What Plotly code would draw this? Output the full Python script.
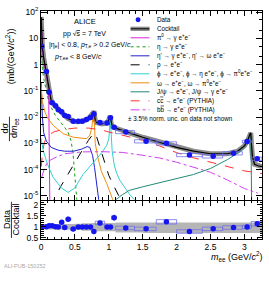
import plotly.graph_objects as go
from plotly.subplots import make_subplots

# ---------------- data ----------------
m_data = [0.01, 0.08, 0.12, 0.165, 0.215, 0.255, 0.305, 0.35, 0.40, 0.475, 0.55, 0.61, 0.67, 0.73,
          0.78, 0.87, 0.975, 1.025, 1.08, 1.25, 1.55, 1.85, 2.19, 2.54, 2.84, 3.04, 3.19]
bin_lo = [0.0, 0.06, 0.10, 0.14, 0.19, 0.23, 0.28, 0.33, 0.38, 0.44, 0.51, 0.58, 0.64, 0.70,
          0.76, 0.80, 0.94, 1.01, 1.04, 1.10, 1.38, 1.70, 2.00, 2.38, 2.68, 2.97, 3.10]
bin_hi = [0.02, 0.10, 0.14, 0.19, 0.23, 0.28, 0.33, 0.38, 0.44, 0.51, 0.58, 0.64, 0.70, 0.76,
          0.80, 0.94, 1.01, 1.04, 1.10, 1.38, 1.70, 2.00, 2.38, 2.68, 2.97, 3.10, 3.26]
y_data = [5.0, 0.54, 0.089, 0.035, 0.027, 0.019, 0.016, 0.0115, 0.0105, 0.0069, 0.0069, 0.0069, 0.0081,
          0.0097, 0.013, 0.0062, 0.006, 0.0095, 0.0041, 0.0027, 0.0012, 0.001, 0.00036, 0.00032,
          0.00042, 0.00117, 0.00026]
stat_rel = [0.02, 0.02, 0.03, 0.04, 0.04, 0.05, 0.06, 0.06, 0.07, 0.08, 0.08, 0.08, 0.08, 0.08,
            0.06, 0.08, 0.08, 0.07, 0.1, 0.08, 0.07, 0.08, 0.1, 0.1, 0.1, 0.08, 0.12]
sys_rel = [0.06, 0.06, 0.08, 0.1, 0.1, 0.1, 0.1, 0.1, 0.12, 0.12, 0.12, 0.12, 0.12, 0.12,
           0.12, 0.12, 0.12, 0.12, 0.14, 0.14, 0.14, 0.14, 0.14, 0.14, 0.14, 0.12, 0.14]
ratio = [0.99, 1.01, 1.05, 1.05, 1.01, 0.99, 1.21, 0.97, 1.35, 0.90, 0.99, 0.99, 0.99, 0.99,
         0.79, 1.18, 0.99, 0.99, 1.42, 0.95, 0.91, 1.23, 0.79, 0.91, 0.97, 1.00, 1.14]
ratio_stat = [0.02, 0.02, 0.03, 0.04, 0.04, 0.05, 0.06, 0.06, 0.12, 0.1, 0.08, 0.08, 0.08, 0.08,
              0.06, 0.1, 0.08, 0.07, 0.14, 0.08, 0.07, 0.08, 0.1, 0.1, 0.1, 0.08, 0.12]
ratio_sys = [0.03, 0.03, 0.04, 0.05, 0.05, 0.05, 0.05, 0.05, 0.06, 0.06, 0.06, 0.06, 0.06, 0.06,
             0.06, 0.08, 0.06, 0.06, 0.08, 0.08, 0.08, 0.1, 0.08, 0.08, 0.08, 0.08, 0.1]

# cocktail sum
m_ck = [0.002, 0.005, 0.01, 0.02, 0.04, 0.06, 0.08, 0.1, 0.11, 0.12, 0.13, 0.15, 0.2, 0.25, 0.3,
        0.35, 0.4, 0.45, 0.5, 0.55, 0.6, 0.65, 0.7, 0.74, 0.76, 0.775, 0.782, 0.79, 0.8, 0.82,
        0.86, 0.9, 0.95, 0.99, 1.005, 1.015, 1.02, 1.025, 1.035, 1.05, 1.1, 1.2, 1.3, 1.5, 1.75,
        2.0, 2.25, 2.5, 2.75, 2.9, 3.0, 3.05, 3.08, 3.095, 3.105, 3.12, 3.15, 3.2, 3.26]
v_ck = [65, 25, 11, 5, 1.8, 0.85, 0.5, 0.24, 0.15, 0.09, 0.06, 0.042, 0.028, 0.02, 0.015,
        0.0115, 0.0088, 0.0075, 0.0068, 0.0066, 0.0068, 0.0074, 0.0088, 0.011, 0.014, 0.015, 0.017,
        0.011, 0.0075, 0.0062, 0.0057, 0.0055, 0.0058, 0.0068, 0.0085, 0.0105, 0.011, 0.009,
        0.0055, 0.0045, 0.0038, 0.003, 0.0025, 0.0017, 0.0011, 0.0007, 0.0005, 0.0004, 0.0004,
        0.0005, 0.0008, 0.0013, 0.0022, 0.0025, 0.0009, 0.0003, 0.00016, 0.00014, 0.00013]

# components
m_pi0 = [0.002, 0.005, 0.01, 0.02, 0.03, 0.04, 0.06, 0.08, 0.1, 0.11, 0.115, 0.12, 0.125, 0.13, 0.132]
v_pi0 = [60, 22, 10, 4.5, 2.5, 1.6, 0.75, 0.45, 0.2, 0.1, 0.03, 0.003, 2e-4, 1e-5, 2e-6]

m_eta = [0.002, 0.01, 0.02, 0.04, 0.06, 0.08, 0.1, 0.13, 0.16, 0.2, 0.25, 0.3, 0.35, 0.4, 0.44,
         0.47, 0.5, 0.52, 0.54]
v_eta = [4, 1.5, 0.7, 0.3, 0.15, 0.09, 0.055, 0.03, 0.02, 0.013, 0.0085, 0.006, 0.004, 0.0026,
         0.0013, 5e-4, 8e-5, 1.5e-5, 3e-6]

m_etap = [0.002, 0.005, 0.01, 0.02, 0.04, 0.08, 0.15, 0.25, 0.35, 0.48, 0.6, 0.68, 0.72, 0.76,
          0.79, 0.82, 0.85, 0.87]
v_etap = [0.2, 0.08, 0.03, 0.01, 0.0025, 0.0012, 7e-4, 5.5e-4, 5e-4, 5e-4, 6e-4, 7.5e-4, 7e-4,
          3.5e-4, 1.2e-4, 3.5e-5, 8e-6, 3e-6]

m_rho = [0.15, 0.2, 0.3, 0.4, 0.5, 0.6, 0.7, 0.75, 0.78, 0.82, 0.88, 0.95, 1.0, 1.06, 1.16, 1.25]
v_rho = [4e-6, 8e-6, 2.5e-5, 7e-5, 2e-4, 5e-4, 1.3e-3, 2.1e-3, 2.5e-3, 1.8e-3, 6e-4, 1.5e-4,
         6e-5, 2.8e-5, 8e-6, 3e-6]

m_phi = [0.002, 0.035, 0.1, 0.18, 0.3, 0.4, 0.5, 0.62, 0.72, 0.82, 0.9, 0.97, 1.0, 1.01, 1.02,
         1.03, 1.05, 1.08, 1.11, 1.16, 1.21, 1.3, 1.38]
v_phi = [1.5e-3, 5e-4, 1.5e-4, 5e-5, 2e-5, 1.35e-5, 2e-5, 6.5e-5, 1.3e-4, 2.7e-4, 4.5e-4, 8.5e-4,
         1.5e-3, 3e-3, 1e-2, 4e-3, 5e-4, 1.5e-4, 8e-5, 4e-5, 2.5e-5, 1.2e-5, 7e-6]

m_omega = [0.002, 0.02, 0.06, 0.1, 0.18, 0.33, 0.48, 0.6, 0.67, 0.72, 0.75, 0.77, 0.78, 0.785,
           0.79, 0.8, 0.84, 0.89, 0.97, 1.04, 1.07]
v_omega = [0.15, 0.04, 0.015, 0.009, 0.0048, 0.0023, 0.0017, 0.0016, 0.0015, 0.002, 0.004, 0.012,
           0.017, 0.01, 0.003, 0.001, 2.8e-4, 8.7e-5, 2.9e-5, 1e-5, 6e-6]

m_jpsi = [1.0, 1.1, 1.2, 1.3, 1.5, 1.75, 2.0, 2.25, 2.5, 2.75, 2.9, 3.0, 3.05, 3.08, 3.095,
          3.1, 3.105, 3.11]
v_jpsi = [5e-6, 7e-6, 1.1e-5, 1.6e-5, 2.2e-5, 3.2e-5, 4.5e-5, 6.5e-5, 1.1e-4, 2.4e-4, 4.2e-4,
          7e-4, 1.3e-3, 2e-3, 2.3e-3, 3e-4, 3e-5, 1e-6]

m_cc = [0.005, 0.02, 0.05, 0.1, 0.2, 0.35, 0.5, 0.7, 0.9, 1.0, 1.25, 1.5, 1.75, 2.0, 2.25, 2.5,
        2.75, 3.0, 3.26]
v_cc = [1.3e-4, 4e-4, 1.1e-3, 2e-3, 2.8e-3, 3.4e-3, 3.8e-3, 3.8e-3, 3.2e-3, 2.7e-3, 1.9e-3,
        1.3e-3, 7.9e-4, 4.4e-4, 2.8e-4, 1.9e-4, 1.26e-4, 8.9e-5, 7e-5]

m_bb = [0.01, 0.05, 0.1, 0.2, 0.35, 0.6, 0.9, 1.2, 1.5, 1.75, 2.0, 2.25, 2.5, 2.75, 3.0, 3.2]
v_bb = [5e-5, 1.1e-4, 2e-4, 2.8e-4, 4e-4, 4.7e-4, 4.8e-4, 4.5e-4, 3.5e-4, 2.75e-4, 1.9e-4,
        1.26e-4, 7.9e-5, 4e-5, 1.9e-5, 1.26e-5]

# cocktail uncertainty band in ratio panel
m_band = [0.0, 0.14, 0.3, 0.5, 0.6, 0.75, 1.0, 1.1, 1.5, 2.0, 2.5, 3.0, 3.26]
band_lo = [0.88, 0.88, 0.87, 0.86, 0.82, 0.80, 0.80, 0.74, 0.72, 0.72, 0.72, 0.72, 0.72]
band_hi = [1.12, 1.12, 1.13, 1.14, 1.17, 1.18, 1.18, 1.2, 1.2, 1.2, 1.2, 1.2, 1.2]

y_tickvals = [1e-5, 1e-4, 1e-3, 1e-2, 1e-1, 1, 10, 100]
y_ticktext = ["10<sup>-5</sup>", "10<sup>-4</sup>", "10<sup>-3</sup>", "10<sup>-2</sup>",
              "10<sup>-1</sup>", "1", "10", "10<sup>2</sup>"]
x_tickvals = [0, 0.5, 1, 1.5, 2, 2.5, 3]
x_ticktext = ["0", "0.5", "1", "1.5", "2", "2.5", "3"]
r_tickvals = [0.5, 1, 1.5, 2]
r_ticktext = ["0.5", "1", "1.5", "2"]

# ---------------- styles ----------------
BLUE = "#1515f0"
C_PI0 = "#e020e0"
C_ETA = "#10a010"
C_ETAP = "#2020d0"
C_RHO = "#000000"
C_PHI = "#30d0d0"
C_OMEGA = "#f08c10"
C_JPSI = "#208a78"
C_CC = "#ff3030"
C_BB = "#d040f0"
FONT = "Liberation Sans, Arial, sans-serif"

W, H = 269, 281
L, R, T, B = 41, 6, 6, 42
PW, PH = W - L - R, H - T - B


def px(x):
    return (x - L) / PW


def py(y):
    return (H - B - y) / PH


fig = make_subplots(rows=2, cols=1, shared_xaxes=True, vertical_spacing=0.005,
                    row_heights=[0.832, 0.168])

# components
comps = [
    (m_pi0, v_pi0, C_PI0, "solid", 1.0),
    (m_eta, v_eta, C_ETA, "dot", 1.0),
    (m_etap, v_etap, C_ETAP, "solid", 1.0),
    (m_rho, v_rho, C_RHO, "dash", 1.0),
    (m_phi, v_phi, C_PHI, "solid", 1.0),
    (m_omega, v_omega, C_OMEGA, "solid", 1.0),
    (m_jpsi, v_jpsi, C_JPSI, "solid", 1.0),
    (m_cc, v_cc, C_CC, "dash", 1.0),
    (m_bb, v_bb, C_BB, "dashdot", 1.0),
]

# cocktail band (thick grey) + black line
fig.add_trace(go.Scatter(x=m_ck, y=v_ck, mode="lines", line=dict(color="#8c8c8c", width=5),
                         showlegend=False, hoverinfo="skip"), row=1, col=1)
for mm, vv, c, d, w in comps:
    fig.add_trace(go.Scatter(x=mm, y=vv, mode="lines", line=dict(color=c, width=w, dash=d),
                             showlegend=False, hoverinfo="skip"), row=1, col=1)
fig.add_trace(go.Scatter(x=m_ck, y=v_ck, mode="lines", line=dict(color="#000000", width=1.2),
                         showlegend=False, hoverinfo="skip"), row=1, col=1)

# systematic boxes (top)
bx, by = [], []
for lo, hi, v, s in zip(bin_lo, bin_hi, y_data, sys_rel):
    bx += [lo, hi, hi, lo, lo, None]
    by += [v * (1 - s), v * (1 - s), v * (1 + s), v * (1 + s), v * (1 - s), None]
fig.add_trace(go.Scatter(x=bx, y=by, mode="lines", line=dict(color="#7070ee", width=0.8),
                         showlegend=False, hoverinfo="skip"), row=1, col=1)
fig.add_trace(go.Scatter(x=m_data, y=y_data, mode="markers",
                         marker=dict(color=BLUE, size=5.5, symbol="circle"),
                         error_y=dict(type="data", array=[v * s for v, s in zip(y_data, stat_rel)],
                                      color=BLUE, thickness=0.8, width=0),
                         showlegend=False, hoverinfo="skip"), row=1, col=1)

# ratio panel
fig.add_trace(go.Scatter(x=m_band, y=band_hi, mode="lines", line=dict(width=0, shape="hv"),
                         showlegend=False, hoverinfo="skip"), row=2, col=1)
fig.add_trace(go.Scatter(x=m_band, y=band_lo, mode="lines", line=dict(width=0, shape="hv"),
                         fill="tonexty", fillcolor="rgba(120,120,120,0.55)",
                         showlegend=False, hoverinfo="skip"), row=2, col=1)
rx, ry = [], []
for lo, hi, v, s in zip(bin_lo, bin_hi, ratio, ratio_sys):
    rx += [lo, hi, hi, lo, lo, None]
    ry += [v - s, v - s, v + s, v + s, v - s, None]
fig.add_trace(go.Scatter(x=rx, y=ry, mode="lines", line=dict(color="#7070ee", width=0.8),
                         showlegend=False, hoverinfo="skip"), row=2, col=1)
fig.add_trace(go.Scatter(x=m_data, y=ratio, mode="markers",
                         marker=dict(color=BLUE, size=5.5),
                         error_y=dict(type="data", array=ratio_stat, color="#6a6af0",
                                      thickness=1.0, width=0),
                         showlegend=False, hoverinfo="skip"), row=2, col=1)

axis_common = dict(showline=True, linecolor="black", linewidth=1, mirror="allticks",
                   ticks="inside", tickcolor="black", showgrid=False, zeroline=False,
                   tickfont=dict(family=FONT, size=8.5, color="black"))
fig.update_xaxes(range=[0, 3.26], ticklen=5, tickvals=x_tickvals, ticktext=x_ticktext,
                 minor=dict(ticks="inside", ticklen=2.5, dtick=0.1, tickcolor="black"),
                 **axis_common)
fig.update_xaxes(showticklabels=False, row=1, col=1)
fig.update_yaxes(type="log", range=[-5.15, 2.04], tickvals=y_tickvals, ticktext=y_ticktext,
                 ticklen=6, minor=dict(ticks="inside", ticklen=3, tickcolor="black"),
                 row=1, col=1, **axis_common)
fig.update_yaxes(range=[0.45, 2.18], tickvals=r_tickvals, ticktext=r_ticktext, ticklen=5,
                 minor=dict(ticks="inside", ticklen=2.5, dtick=0.1, tickcolor="black"),
                 row=2, col=1, **axis_common)

# ---------------- texts ----------------
ann = []
shp = []


def text(x, y, s, size=7, anchor="left", angle=0, color="black"):
    ann.append(dict(x=px(x), y=py(y), xref="paper", yref="paper", text=s, showarrow=False,
                    xanchor=anchor, yanchor="middle", textangle=angle,
                    font=dict(family=FONT, size=size, color=color)))


text(85, 17, "ALICE", 7.5, "center")
text(85, 30, "pp √<span style='text-decoration:overline'>s</span> = 7 TeV", 7, "center")
text(90, 41, "|η<sub>e</sub>| < 0.8, <i>p</i><sub>T,e</sub> > 0.2 GeV/<i>c</i>", 7, "center")
text(78, 53, "<i>p</i><sub>T,ee</sub> < 8 GeV/<i>c</i>", 7, "center")

# legend
leg = [
    ("Data", None),
    ("Cocktail", None),
    ("π<sup>0</sup> → γ e<sup>+</sup>e<sup>−</sup>", (C_PI0, "solid")),
    ("η → γ e<sup>+</sup>e<sup>−</sup>", (C_ETA, "dot")),
    ("η' → γ e<sup>+</sup>e<sup>−</sup>, η' → ω e<sup>+</sup>e<sup>−</sup>", (C_ETAP, "solid")),
    ("ρ → e<sup>+</sup>e<sup>−</sup>", (C_RHO, "dash")),
    ("ϕ → e<sup>+</sup>e<sup>−</sup>, ϕ → η e<sup>+</sup>e<sup>−</sup>, ϕ → π<sup>0</sup>e<sup>+</sup>e<sup>−</sup>", (C_PHI, "solid")),
    ("ω → e<sup>+</sup>e<sup>−</sup>, ω → π<sup>0</sup>e<sup>+</sup>e<sup>−</sup>", (C_OMEGA, "solid")),
    ("J/ψ → e<sup>+</sup>e<sup>−</sup>, J/ψ → γ e<sup>+</sup>e<sup>−</sup>", (C_JPSI, "solid")),
    ("c<span style='text-decoration:overline'>c</span> → e<sup>+</sup>e<sup>−</sup> (PYTHIA)", (C_CC, "dash")),
    ("b<span style='text-decoration:overline'>b</span> → e<sup>+</sup>e<sup>−</sup> (PYTHIA)", (C_BB, "dashdot")),
]
y0, dy = 15.0, 9.2
for i, (lab, sty) in enumerate(leg):
    yy = y0 + i * dy
    text(156, yy, lab, 6.3)
    if i == 0:
        shp.append(dict(type="circle", xref="paper", yref="paper", x0=px(136), x1=px(141),
                        y0=py(yy + 2.5), y1=py(yy - 2.5), fillcolor=BLUE, line=dict(width=0)))
    elif i == 1:
        shp.append(dict(type="rect", xref="paper", yref="paper", x0=px(131), x1=px(150),
                        y0=py(yy + 2.2), y1=py(yy - 2.2), fillcolor="#8c8c8c", line=dict(width=0)))
        shp.append(dict(type="line", xref="paper", yref="paper", x0=px(131), x1=px(150),
                        y0=py(yy), y1=py(yy), line=dict(color="black", width=1)))
    else:
        shp.append(dict(type="line", xref="paper", yref="paper", x0=px(131), x1=px(150),
                        y0=py(yy), y1=py(yy), line=dict(color=sty[0], width=1, dash=sty[1])))
text(126, y0 + 11 * dy, "± 3.5% norm. unc. on data not shown", 6.3)

# axis titles
text(5, 126, "dσ", 9, "center", -90)
text(14.5, 126, "d<i>m</i><sub>ee</sub>", 9, "center", -90)
shp.append(dict(type="line", xref="paper", yref="paper", x0=px(9.3), x1=px(9.3),
                y0=py(114), y1=py(139), line=dict(color="black", width=0.8)))
text(10, 52, "(mb/(GeV/<i>c</i><sup>2</sup>))", 9, "center", -90)

text(7.5, 219, "Data", 9, "center", -90)
text(16, 219, "Cocktail", 9, "center", -90)
shp.append(dict(type="line", xref="paper", yref="paper", x0=px(11.3), x1=px(11.3),
                y0=py(201), y1=py(238), line=dict(color="black", width=0.8)))

ann.append(dict(x=px(266), y=py(257), xref="paper", yref="paper",
                text="<i>m</i><sub>ee</sub> (GeV/<i>c</i><sup>2</sup>)", showarrow=False,
                xanchor="right", yanchor="middle", font=dict(family=FONT, size=9, color="black")))
text(2, 267, "ALI-PUB-150252", 5.5, "left", 0, "#a8a8a8")

fig.update_layout(width=W, height=H, margin=dict(l=L, r=R, t=T, b=B),
                  paper_bgcolor="white", plot_bgcolor="white", showlegend=False,
                  hovermode=False, annotations=ann, shapes=shp)

fig.write_html("out.html", config={"displayModeBar": False, "staticPlot": True},
               post_script="document.body.style.margin='0';document.body.style.padding='0';"
                           "document.documentElement.style.overflow='hidden';")
